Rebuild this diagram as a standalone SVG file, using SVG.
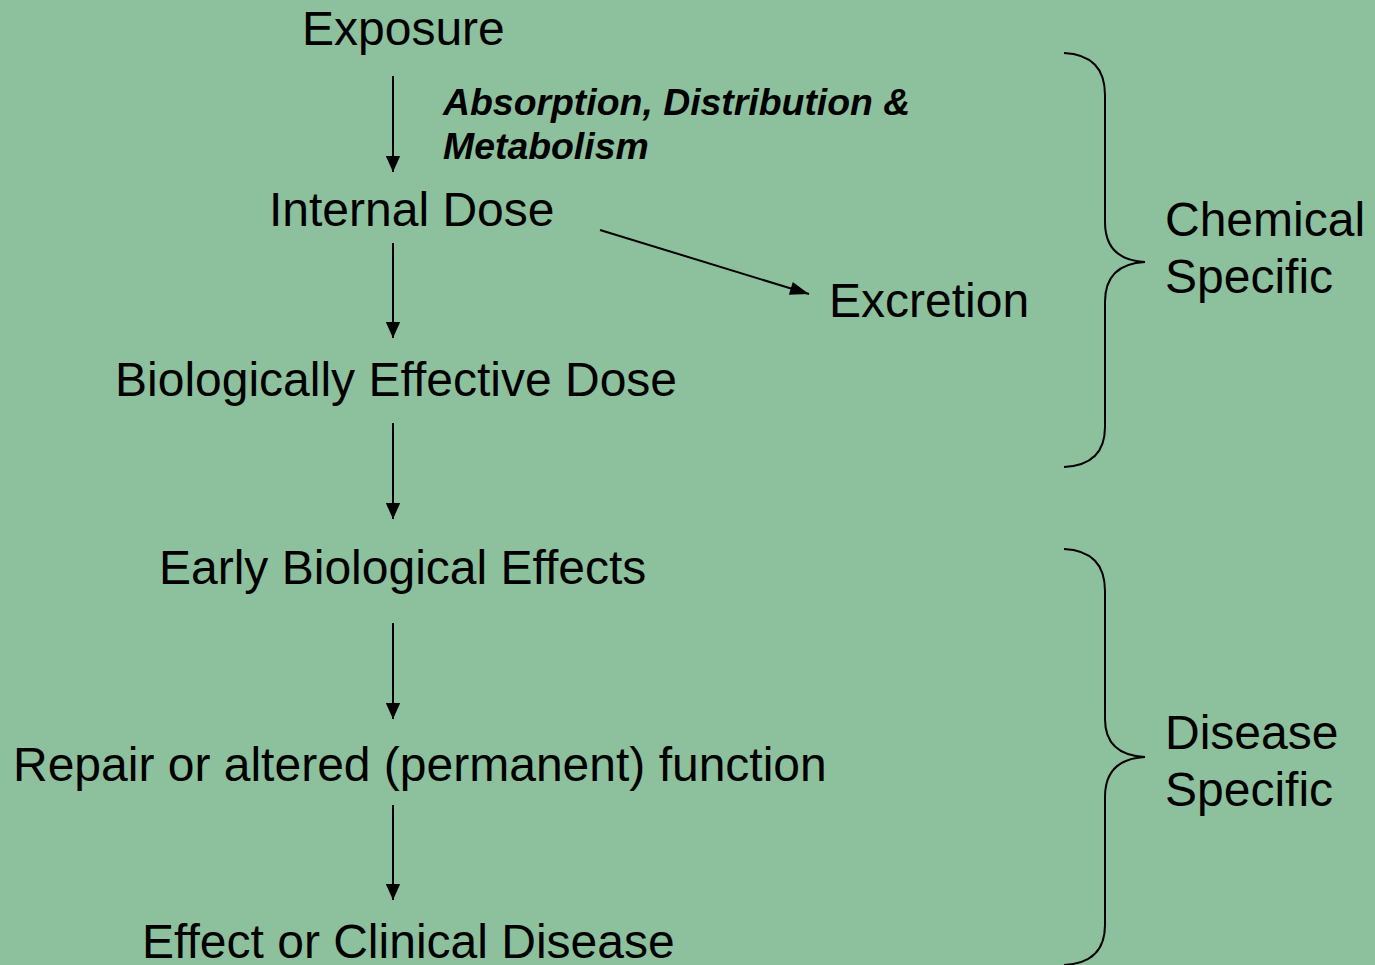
<svg xmlns="http://www.w3.org/2000/svg" width="1375" height="965" viewBox="0 0 1375 965">
<defs>
<marker id="ah" viewBox="0 0 10 10" refX="10" refY="5" markerWidth="16" markerHeight="16" markerUnits="userSpaceOnUse" orient="auto" overflow="visible">
<path d="M0,0.5 L10,5 L0,9.5 z" fill="#000"/>
</marker>
<marker id="ah2" viewBox="0 0 10 10" refX="10" refY="5" markerWidth="19" markerHeight="19" markerUnits="userSpaceOnUse" orient="auto" overflow="visible">
<path d="M0,1.5 L10,5 L0,8.5 z" fill="#000"/>
</marker>
</defs>
<style>
.t{font-family:"Liberation Sans",Arial,sans-serif;font-size:48px;fill:#000}
.i{font-family:"Liberation Sans",Arial,sans-serif;font-size:37.4px;font-weight:bold;font-style:italic;fill:#000}
.c{stroke:#000;stroke-width:2;fill:none}
.b{stroke:#000;stroke-width:2;fill:none}
</style>
<rect width="1375" height="965" fill="#8DC19D"/>
<g id="exposure"><text class="t" x="302" y="45">Exposure</text></g>
<g id="adm"><text class="i" x="443" y="115">Absorption, Distribution &amp;</text><text class="i" x="443" y="159">Metabolism</text></g>
<g id="internal-dose"><text class="t" x="269" y="226">Internal Dose</text></g>
<g id="excretion"><text class="t" x="829" y="317">Excretion</text></g>
<g id="bed"><text class="t" x="115" y="396">Biologically Effective Dose</text></g>
<g id="ebe"><text class="t" x="159" y="584">Early Biological Effects</text></g>
<g id="repair"><text class="t" x="13" y="781">Repair or altered (permanent) function</text></g>
<g id="effect"><text class="t" x="142" y="958">Effect or Clinical Disease</text></g>
<g id="chemical-specific"><text class="t" x="1165" y="236">Chemical</text><text class="t" x="1165" y="293">Specific</text>
<path class="b" d="M1064,53 Q1105,55 1105,95 L1105,222 Q1105,260 1145,262 Q1105,264 1105,302 L1105,427 Q1105,465 1064,467"/></g>
<g id="disease-specific"><text class="t" x="1165" y="749">Disease</text><text class="t" x="1165" y="806">Specific</text>
<path class="b" d="M1064,549 Q1105,551 1105,591 L1105,719 Q1105,755 1145,757 Q1105,759 1105,797 L1105,925 Q1105,963 1064,965"/></g>
<g id="connectors">
<line class="c" x1="393" y1="76" x2="393" y2="172" marker-end="url(#ah)"/>
<line class="c" x1="393" y1="243" x2="393" y2="338" marker-end="url(#ah)"/>
<line class="c" x1="393" y1="423" x2="393" y2="519" marker-end="url(#ah)"/>
<line class="c" x1="393" y1="623" x2="393" y2="719" marker-end="url(#ah)"/>
<line class="c" x1="393" y1="805" x2="393" y2="900" marker-end="url(#ah)"/>
<line class="c" x1="600" y1="230" x2="809" y2="294" marker-end="url(#ah2)"/>
</g>
</svg>
